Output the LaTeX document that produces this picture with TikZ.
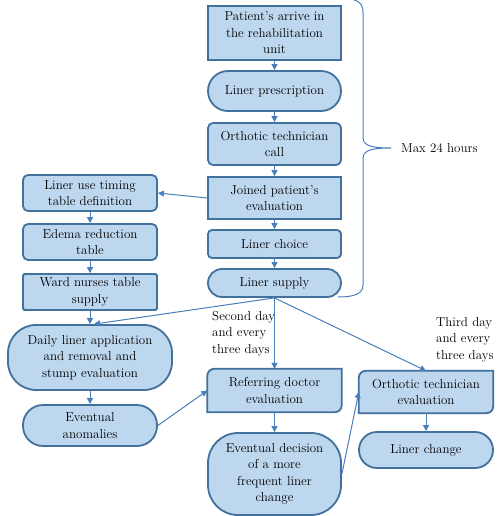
\documentclass[tikz,border=0pt]{standalone}
\usepackage{fontspec}
\usetikzlibrary{arrows.meta,backgrounds,calc}
\definecolor{bg}{HTML}{BDD7EE}
\definecolor{bd}{HTML}{41719C}
\definecolor{ln}{HTML}{4A7EBB}
\newcommand{\fsz}{\rmfamily\fontsize{13bp}{16.5bp}\selectfont}
\begin{document}
\begin{tikzpicture}[x=1bp,y=-1bp,
  box/.style={draw=bd, fill=bg, line width=1.8bp, minimum width=133bp, align=center, inner sep=0pt, font=\fsz},
  rnd/.style={box, rounded corners=5bp},
  stad/.style={box, rounded corners=#1},
  diagbox/.style={draw=none, fill=none, minimum width=133bp, align=center, inner sep=0pt, font=\fsz},
  dshape/.style={draw=bd, fill=bg, line width=1.8bp},
  arr/.style={draw=ln, line width=1bp, -{Triangle[length=6bp,width=6bp]}},
  brace/.style={draw=ln, line width=1bp},
  lbl/.style={align=left, inner sep=0pt, font=\fsz, anchor=west}]
\useasboundingbox (0,0) rectangle (500,516);
% centre column
\node[box, minimum height=54bp] (p1) at (274.5,33) {Patient's arrive in\\the rehabilitation\\unit};
\node[stad=19.9bp, minimum height=40bp] (p2) at (274.5,91) {Liner prescription};
\node[rnd, minimum height=42bp] (p3) at (274.5,144) {Orthotic technician\\call};
\node[box, minimum height=42bp] (p4) at (274.5,198) {Joined patient's\\evaluation};
\node[box, rounded corners=4bp, minimum height=28bp] (p5) at (274.5,244) {Liner choice};
\node[stad=13.9bp, minimum height=28bp] (p6) at (274.5,283) {Liner supply};
% left column
\node[rnd, minimum width=134bp, minimum height=36bp] (l1) at (90,193) {Liner use timing\\table definition};
\node[rnd, minimum width=134bp, minimum height=36bp] (l2) at (90,242) {Edema reduction\\table};
\node[box, rounded corners=1.5bp, minimum width=134bp, minimum height=36bp] (l3) at (90,292) {Ward nurses table\\supply};
\node[stad=28bp, minimum width=164bp, minimum height=65bp] (l4) at (90,357.5) {Daily liner application\\and removal and\\stump evaluation};
\node[stad=20bp, minimum width=134bp, minimum height=41bp] (l5) at (90,425.5) {Eventual\\anomalies};
% lower centre
\node[diagbox, minimum width=134bp, minimum height=43bp] (c1) at (274.5,390.5) {Referring doctor\\evaluation};
\node[stad=30bp, minimum height=82bp] (c2) at (274.5,474) {Eventual decision\\of a more\\frequent liner\\change};
% right
\node[diagbox, minimum width=134bp, minimum height=42bp] (r1) at (426,392) {Orthotic technician\\evaluation};
\node[stad=17.9bp, minimum width=134bp, minimum height=36bp] (r2) at (426,450) {Liner change};
\begin{scope}[on background layer]
\foreach \n in {c1,r1}{
  \filldraw[dshape] ($(\n.north west)+(0,7)$) .. controls ($(\n.north west)+(0,3)$) and ($(\n.north west)+(3,0)$) .. ($(\n.north west)+(7,0)$)
    -- (\n.north east) -- ($(\n.south east)+(0,-7)$)
    .. controls ($(\n.south east)+(0,-3)$) and ($(\n.south east)+(-3,0)$) .. ($(\n.south east)+(-7,0)$)
    -- (\n.south west) -- cycle;
}
\end{scope}
% labels
\node[lbl] (t1) at (212,333.5) {Second day\\and every\\three days};
\node[lbl] (t2) at (436,339.5) {Third day\\and every\\three days};
\node[lbl] (t3) at (401,148) {Max 24 hours};
% brace
\coordinate (bt) at (338,-2);
\coordinate (bb) at (338,297);
\coordinate (btip) at (391,148);
\draw[brace] (bt) .. controls (356,-2) and (363,2) .. (363,12) -- (363,136)
  .. controls (363,144) and (366,148) .. (btip)
  .. controls (366,148) and (363,152) .. (363,160) -- (363,285)
  .. controls (363,293) and (356,297) .. (bb);
% connectors
\draw[arr] (p1) -- (p2);
\draw[arr] (p2) -- (p3);
\draw[arr] (p3) -- (p4);
\draw[arr] (p4) -- (p5);
\draw[arr] (p5) -- (p6);
\draw[arr] (p4.west) -- (l1.east);
\draw[arr] (l1) -- (l2);
\draw[arr] (l2) -- (l3);
\draw[arr] (l3) -- (l4);
\draw[arr] (p6.south) -- ($(l4.north)+(4,0)$);
\draw[arr] (p6) -- (c1);
\draw[arr] (p6.south) -- (r1.north);
\draw[arr] (l4) -- (l5);
\draw[arr] (l5.east) -- (c1.west);
\draw[arr] (c1) -- (c2);
\draw[arr] (c2.east) -- (r1.west);
\draw[arr] (r1) -- (r2);
\end{tikzpicture}
\end{document}
